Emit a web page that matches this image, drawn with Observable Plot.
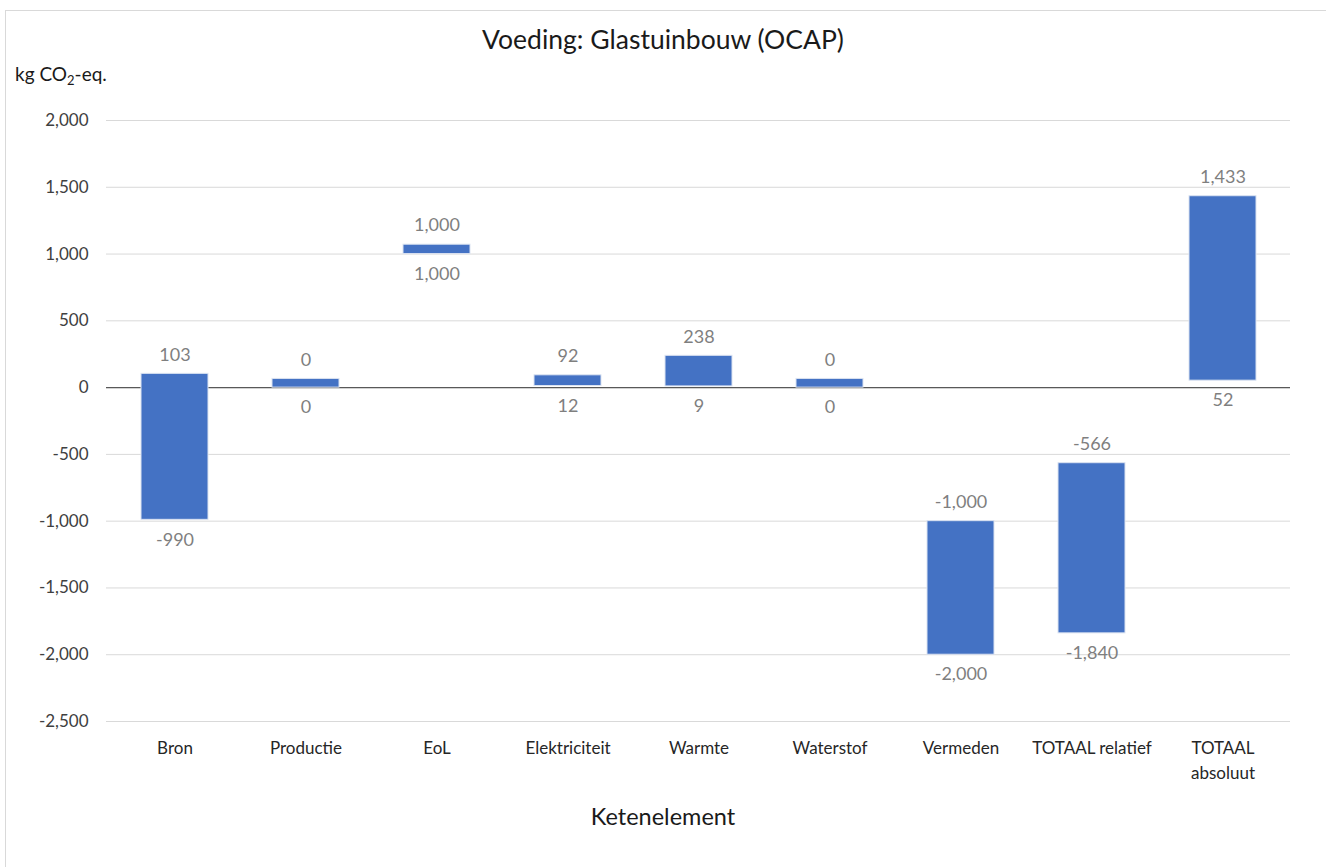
<!DOCTYPE html>
<html>
<head>
<meta charset="utf-8">
<script src="https://cdn.jsdelivr.net/npm/d3@7"></script>
<script src="https://cdn.jsdelivr.net/npm/@observablehq/plot@0.6"></script>
<style>
  html, body { margin: 0; padding: 0; background: #fff; }
  body { width: 1326px; height: 867px; position: relative; overflow: hidden; font-family: Lato, "Open Sans", sans-serif; }
  #frame { position: absolute; left: 5px; top: 10px; width: 1330px; height: 900px; border: 1px solid #d9d9d9; box-sizing: border-box; }
  #title { position: absolute; left: 0; width: 1326px; top: 22px; text-align: center; font-size: 26.5px; line-height: 34px; color: #1a1a1a; }
  #unit { position: absolute; left: 15px; top: 62px; font-size: 19px; line-height: 24px; color: #1a1a1a; }
  #unit sub { font-size: 13px; vertical-align: -4px; line-height: 0; }
  #xlabel { position: absolute; left: 0; width: 1326px; top: 801px; text-align: center; font-size: 23.5px; line-height: 30px; color: #1a1a1a; }
  #chart { position: absolute; left: 0; top: 0; }
</style>
</head>
<body>
<div id="frame"></div>
<div id="chart"></div>
<div id="title">Voeding: Glastuinbouw (OCAP)</div>
<div id="unit">kg CO<sub>2</sub>-eq.</div>
<div id="xlabel">Ketenelement</div>
<script>
const categories = ["Bron", "Productie", "EoL", "Elektriciteit", "Warmte", "Waterstof", "Vermeden", "TOTAAL relatief", "TOTAAL\nabsoluut"];
const barLow = [-990, 0, 1000, 12, 9, 0, -2000, -1840, 52];
const barHigh = [103, 65, 1070, 92, 238, 65, -1000, -566, 1433];
const topLabels = [103, 0, 1000, 92, 238, 0, -1000, -566, 1433];
const bottomLabels = [-990, 0, 1000, 12, 9, 0, -2000, -1840, 52];
const yTicks = [2000, 1500, 1000, 500, 0, -500, -1000, -1500, -2000, -2500];

const data = categories.map((c, i) => ({
  cat: c, low: barLow[i], high: barHigh[i], top: topLabels[i], bottom: bottomLabels[i]
}));
const fmt = d3.formatLocale({ decimal: ".", thousands: ",", grouping: [3], currency: ["", ""], minus: "-" }).format(",");

const chart = Plot.plot({
  width: 1326,
  height: 867,
  marginLeft: 106,
  marginRight: 36,
  marginTop: 120,
  marginBottom: 146,
  style: { fontFamily: "Lato, 'Open Sans', sans-serif", background: "transparent" },
  x: { domain: categories, paddingInner: 0.49, paddingOuter: 0.245, label: null },
  y: { domain: [-2500, 2000], label: null },
  marks: [
    Plot.gridY(yTicks, { stroke: "#d9d9d9", strokeOpacity: 1 }),
    Plot.ruleY([0], { stroke: "#595959", strokeWidth: 1.2 }),
    Plot.barY(data, { x: "cat", y1: "low", y2: "high", fill: "#4472C4", stroke: "#dbe3f1", strokeWidth: 1 }),
    Plot.text(data, { x: "cat", y: "high", text: d => fmt(d.top), dy: -19, fill: "#7f7f7f", fontSize: 18 }),
    Plot.text(data, { x: "cat", y: "low", text: d => fmt(d.bottom), dy: 20, fill: "#7f7f7f", fontSize: 18 }),
    Plot.axisY({ ticks: yTicks, tickFormat: fmt, tickSize: 0, tickPadding: 18, fontSize: 17, color: "#404040", label: null }),
    Plot.axisX({ tickSize: 0, tickPadding: 15, fontSize: 17, color: "#262626", label: null, lineHeight: 1.45 })
  ]
});
document.getElementById("chart").appendChild(chart);
</script>
</body>
</html>
